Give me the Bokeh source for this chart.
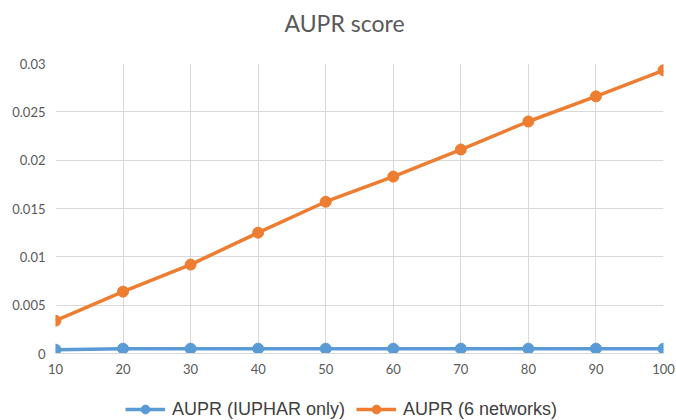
from bokeh.plotting import figure
from bokeh.layouts import column
from bokeh.models import Legend, LegendItem, FixedTicker, Range1d, Label
from bokeh.embed import file_html
from bokeh.resources import INLINE

x_vals = [10, 20, 30, 40, 50, 60, 70, 80, 90, 100]
aupr_iuphar = [0.0004, 0.0005, 0.0005, 0.0005, 0.0005, 0.0005, 0.0005, 0.0005, 0.0005, 0.0005]
aupr_6net = [0.0034, 0.0064, 0.0092, 0.0125, 0.0157, 0.0183, 0.0211, 0.0240, 0.0266, 0.0293]
y_ticks = [0, 0.005, 0.01, 0.015, 0.02, 0.025, 0.03]
y_tick_labels = ["0", "0.005", "0.01", "0.015", "0.02", "0.025", "0.03"]
x_ticks = [10, 20, 30, 40, 50, 60, 70, 80, 90, 100]
series_names = ["AUPR (IUPHAR only)", "AUPR (6 networks)"]
title_text = "AUPR score"

BLUE = "#5B9BD5"
ORANGE = "#ED7D31"


def blank_strip(height):
    f = figure(width=676, height=height, output_backend="svg", toolbar_location=None,
               x_range=Range1d(0, 1), y_range=Range1d(0, 1),
               x_axis_type=None, y_axis_type=None,
               min_border_left=0, min_border_right=0, min_border_top=0, min_border_bottom=0)
    f.outline_line_color = None
    f.xgrid.visible = False
    f.ygrid.visible = False
    return f


# title strip
hf = blank_strip(40)
hf.add_layout(Label(x=229, y=18, x_units="screen", y_units="screen", text=title_text,
                    text_align="left", text_baseline="middle", text_font="Lato",
                    text_font_size="23px", text_color="#595959"))

# main chart
p = figure(width=676, height=344, output_backend="svg", toolbar_location=None,
           x_range=Range1d(10, 100), y_range=Range1d(0, 0.03),
           min_border_left=55, min_border_right=13, min_border_top=23, min_border_bottom=31)
p.outline_line_color = None

for ax in (p.xaxis, p.yaxis):
    ax.major_tick_line_color = None
    ax.minor_tick_line_color = None
    ax.major_label_text_font = "Lato"
    ax.major_label_text_font_size = "13px"
    ax.major_label_text_color = "#595959"
p.yaxis.axis_line_color = None
p.xaxis.axis_line_color = "#D9D9D9"
p.xaxis.ticker = FixedTicker(ticks=x_ticks)
p.yaxis.ticker = FixedTicker(ticks=y_ticks)
p.yaxis.major_label_overrides = {t: l for t, l in zip(y_ticks, y_tick_labels)}
p.xaxis.major_label_standoff = 4
p.yaxis.major_label_standoff = 4
p.xgrid.grid_line_color = "#D9D9D9"
p.ygrid.grid_line_color = "#D9D9D9"
p.xgrid.ticker = FixedTicker(ticks=x_ticks)
p.ygrid.ticker = FixedTicker(ticks=y_ticks)

for vals, col in [(aupr_iuphar, BLUE), (aupr_6net, ORANGE)]:
    p.line(x_vals, vals, line_color=col, line_width=3.5)
    p.scatter(x_vals, vals, marker="circle", size=11, fill_color=col, line_color=col)

# legend strip
lf = blank_strip(36)
items = []
for col, name in [(BLUE, series_names[0]), (ORANGE, series_names[1])]:
    l = lf.line([-5, -4], [-5, -5], line_color=col, line_width=3.5)
    s = lf.scatter([-5], [-5], marker="circle", size=11, fill_color=col, line_color=col)
    items.append(LegendItem(label=name, renderers=[l, s]))
legend = Legend(items=items, orientation="horizontal", location=(70, 0),
                label_text_font="Liberation Sans", label_text_font_size="18px",
                label_text_color="#404040", glyph_width=40, glyph_height=22,
                spacing=11, label_standoff=7, border_line_color=None,
                margin=0, padding=2, background_fill_alpha=0)
lf.add_layout(legend, "center")

layout = column(hf, p, lf, spacing=0)
open("out.html", "w").write(file_html(layout, INLINE))
